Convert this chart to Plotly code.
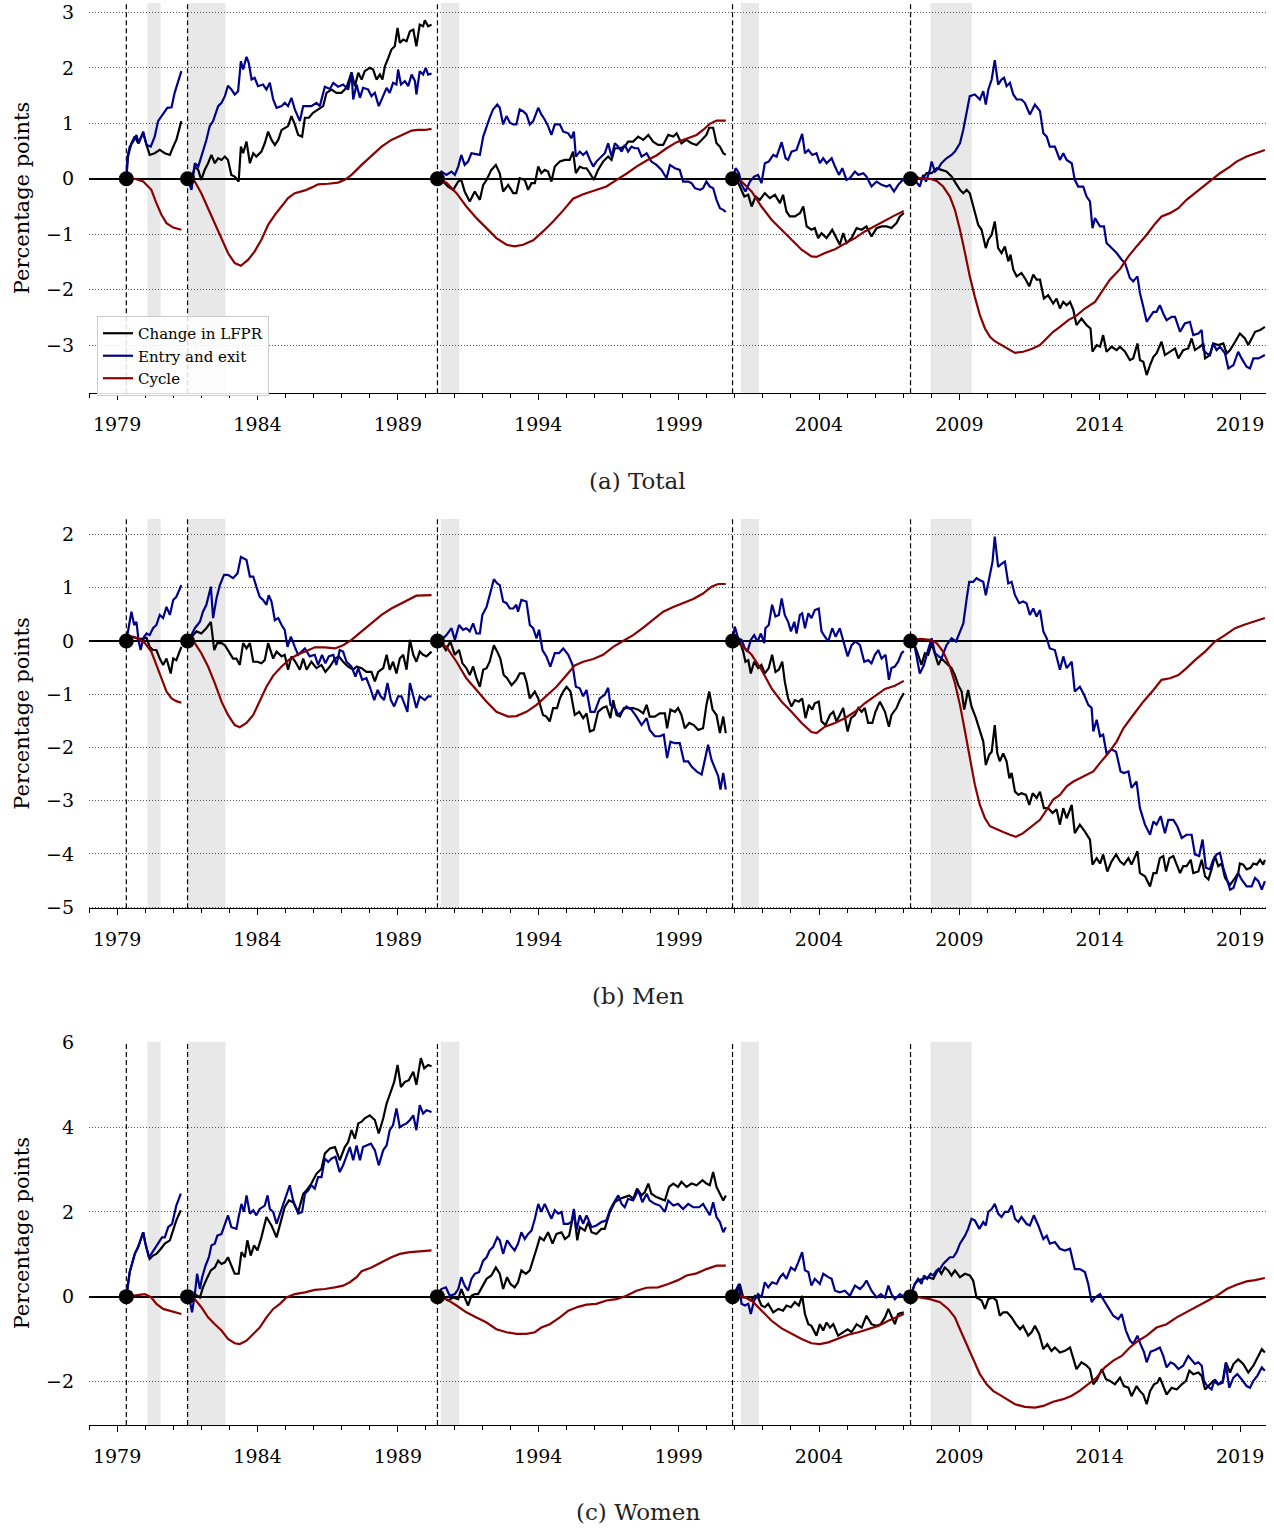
import plotly.graph_objects as go

# ---------------- data ----------------
EPISODE_STARTS = [1979.33, 1981.51, 1990.41, 2000.92, 2007.26]
RECESSIONS = [(1980.08, 1980.55), (1981.53, 1982.86), (1990.53, 1991.19),
              (2001.22, 2001.86), (2007.97, 2009.44)]
X_TICKS = [1979, 1984, 1989, 1994, 1999, 2004, 2009, 2014, 2019]
MINOR_TICKS = list(range(1978, 2020))
SERIES_NAMES = ["Change in LFPR", "Entry and exit", "Cycle"]
PANEL_TITLES = ["(a) Total", "(b) Men", "(c) Women"]
Y_TICKS = [[-3, -2, -1, 0, 1, 2, 3], [-5, -4, -3, -2, -1, 0, 1, 2], [-2, 0, 2, 4, 6]]

TOTAL_CHANGE = [
    [(1979.33,0),(1979.39,0.40),(1979.51,0.64),(1979.63,0.76),(1979.75,0.64),(1979.93,0.82),(1980.05,0.61),(1980.16,0.43),(1980.34,0.46),(1980.52,0.52),(1980.70,0.46),(1980.88,0.43),(1981.00,0.58),(1981.11,0.70),(1981.29,1.04)],
    [(1981.51,0),(1981.65,0.0),(1981.77,0.22),(1981.89,0.16),(1982.00,-0.02),(1982.12,0.16),(1982.24,0.28),(1982.36,0.43),(1982.48,0.28),(1982.60,0.37),(1982.72,0.34),(1982.84,0.40),(1982.95,0.34),(1983.07,0.07),(1983.19,0.04),(1983.33,-0.05),(1983.41,0.58),(1983.49,0.46),(1983.61,0.67),(1983.73,0.28),(1983.85,0.46),(1983.96,0.40),(1984.14,0.49),(1984.26,0.64),(1984.38,0.85),(1984.50,0.70),(1984.62,0.61),(1984.74,0.70),(1984.86,0.88),(1984.97,0.92),(1985.09,0.95),(1985.21,1.13),(1985.33,0.98),(1985.45,0.79),(1985.59,0.76),(1985.69,1.10),(1985.83,1.10),(1985.98,1.19),(1986.16,1.25),(1986.34,1.31),(1986.46,1.55),(1986.64,1.61),(1986.81,1.55),(1986.99,1.55),(1987.17,1.64),(1987.35,1.92),(1987.47,1.67),(1987.59,1.91),(1987.71,1.79),(1987.82,1.94),(1988.00,2.0),(1988.12,1.97),(1988.24,1.79),(1988.36,1.88),(1988.45,1.79),(1988.54,2.03),(1988.66,2.18),(1988.77,2.33),(1988.89,2.39),(1988.99,2.72),(1989.07,2.45),(1989.19,2.51),(1989.31,2.48),(1989.43,2.66),(1989.55,2.69),(1989.66,2.39),(1989.78,2.78),(1989.90,2.75),(1989.96,2.86),(1990.08,2.75),(1990.20,2.78)],
    [(1990.41,0),(1990.61,-0.05),(1990.79,-0.14),(1990.97,-0.20),(1991.15,-0.05),(1991.26,-0.02),(1991.38,-0.23),(1991.56,-0.41),(1991.74,-0.23),(1991.92,-0.38),(1992.04,-0.11),(1992.16,-0.02),(1992.33,0.16),(1992.49,0.25),(1992.63,0.10),(1992.75,-0.23),(1992.93,-0.11),(1993.11,-0.26),(1993.22,-0.26),(1993.34,0.01),(1993.52,-0.02),(1993.64,-0.20),(1993.76,-0.08),(1993.88,-0.08),(1994.00,0.22),(1994.11,0.10),(1994.23,0.16),(1994.35,0.13),(1994.47,-0.05),(1994.59,0.22),(1994.77,0.31),(1994.95,0.34),(1995.12,0.34),(1995.24,0.49),(1995.34,0.10),(1995.48,0.22),(1995.60,0.19),(1995.72,0.19),(1995.84,0.10),(1995.98,-0.02),(1996.13,0.16),(1996.31,0.31),(1996.49,0.40),(1996.61,0.34),(1996.73,0.55),(1996.91,0.55),(1997.08,0.58),(1997.20,0.67),(1997.38,0.67),(1997.56,0.76),(1997.74,0.70),(1997.92,0.79),(1998.09,0.67),(1998.27,0.61),(1998.45,0.61),(1998.63,0.79),(1998.81,0.76),(1998.93,0.82),(1999.10,0.64),(1999.28,0.70),(1999.46,0.64),(1999.64,0.61),(1999.82,0.70),(1999.99,0.79),(2000.09,0.92),(2000.23,0.92),(2000.35,0.64),(2000.47,0.58),(2000.59,0.46),(2000.68,0.43)],
    [(2000.92,0),(2001.06,0.01),(2001.18,-0.14),(2001.34,-0.32),(2001.48,-0.29),(2001.60,-0.50),(2001.74,-0.32),(2001.89,-0.38),(2002.07,-0.26),(2002.25,-0.35),(2002.43,-0.29),(2002.61,-0.44),(2002.72,-0.29),(2002.84,-0.59),(2002.96,-0.68),(2003.14,-0.68),(2003.32,-0.62),(2003.44,-0.50),(2003.56,-0.86),(2003.73,-0.92),(2003.85,-0.89),(2003.97,-1.07),(2004.09,-0.98),(2004.27,-1.07),(2004.47,-0.92),(2004.62,-1.07),(2004.74,-1.19),(2004.86,-0.98),(2004.98,-1.16),(2005.16,-1.07),(2005.34,-0.89),(2005.52,-0.92),(2005.69,-0.86),(2005.87,-1.04),(2006.05,-0.89),(2006.23,-0.86),(2006.41,-0.86),(2006.58,-0.89),(2006.76,-0.80),(2006.88,-0.68),(2007.02,-0.62)],
    [(2007.26,0),(2007.47,0.04),(2007.65,-0.02),(2007.83,0.10),(2008.01,0.10),(2008.19,0.19),(2008.36,0.16),(2008.54,0.13),(2008.72,0.04),(2008.84,-0.05),(2009.02,-0.20),(2009.14,-0.26),(2009.26,-0.20),(2009.37,-0.26),(2009.49,-0.50),(2009.67,-0.83),(2009.79,-0.92),(2009.94,-1.25),(2010.03,-1.10),(2010.15,-1.01),(2010.26,-0.77),(2010.38,-1.25),(2010.50,-1.34),(2010.62,-1.22),(2010.74,-1.49),(2010.82,-1.37),(2010.92,-1.64),(2011.04,-1.76),(2011.21,-1.70),(2011.33,-1.79),(2011.49,-1.94),(2011.63,-1.73),(2011.75,-1.82),(2011.87,-1.82),(2012.01,-2.16),(2012.16,-2.10),(2012.34,-2.25),(2012.46,-2.16),(2012.58,-2.34),(2012.70,-2.22),(2012.82,-2.28),(2012.94,-2.22),(2013.06,-2.37),(2013.17,-2.64),(2013.35,-2.52),(2013.53,-2.64),(2013.67,-2.70),(2013.74,-3.12),(2013.89,-3.00),(2014.01,-3.03),(2014.12,-2.82),(2014.24,-3.12),(2014.42,-3.03),(2014.60,-3.09),(2014.72,-3.03),(2014.90,-3.12),(2015.07,-3.27),(2015.19,-3.24),(2015.34,-2.97),(2015.43,-3.27),(2015.55,-3.30),(2015.67,-3.54),(2015.79,-3.36),(2015.91,-3.21),(2016.02,-3.15),(2016.20,-2.94),(2016.32,-3.18),(2016.50,-3.12),(2016.68,-3.06),(2016.80,-3.24),(2016.97,-3.09),(2017.15,-3.06),(2017.27,-2.88),(2017.39,-3.09),(2017.57,-3.03),(2017.69,-2.97),(2017.75,-3.24),(2017.92,-3.18),(2018.04,-2.97),(2018.22,-3.00),(2018.40,-2.97),(2018.52,-3.15),(2018.64,-3.09),(2018.82,-2.94),(2018.99,-2.79),(2019.17,-2.88),(2019.29,-3.00),(2019.41,-2.88),(2019.53,-2.76),(2019.71,-2.73),(2019.88,-2.67)],
]
TOTAL_ENTRY = [
    [(1979.33,0),(1979.37,0.40),(1979.45,0.58),(1979.57,0.67),(1979.69,0.79),(1979.77,0.64),(1979.93,0.85),(1980.05,0.61),(1980.20,0.58),(1980.34,0.76),(1980.46,1.04),(1980.64,1.16),(1980.79,1.28),(1980.94,1.29),(1981.05,1.55),(1981.29,1.94)],
    [(1981.51,0),(1981.65,-0.2),(1981.77,0.28),(1981.89,0.22),(1982.00,0.40),(1982.18,0.70),(1982.30,0.95),(1982.42,1.04),(1982.60,1.31),(1982.72,1.37),(1982.84,1.49),(1982.95,1.68),(1983.07,1.61),(1983.19,1.52),(1983.31,1.58),(1983.41,2.12),(1983.49,1.97),(1983.61,2.20),(1983.69,2.09),(1983.79,1.79),(1983.90,1.82),(1984.02,1.67),(1984.20,1.70),(1984.32,1.61),(1984.44,1.73),(1984.56,1.43),(1984.68,1.28),(1984.86,1.31),(1984.97,1.37),(1985.09,1.31),(1985.21,1.46),(1985.33,1.25),(1985.51,1.04),(1985.63,1.31),(1985.75,1.31),(1985.92,1.31),(1986.10,1.37),(1986.22,1.31),(1986.40,1.66),(1986.58,1.62),(1986.70,1.73),(1986.87,1.66),(1987.05,1.70),(1987.23,1.61),(1987.35,1.91),(1987.41,1.43),(1987.53,1.70),(1987.65,1.46),(1987.76,1.64),(1987.94,1.61),(1988.06,1.49),(1988.18,1.55),(1988.32,1.31),(1988.48,1.49),(1988.60,1.64),(1988.71,1.55),(1988.83,1.73),(1988.95,1.70),(1989.01,1.97),(1989.11,1.70),(1989.25,1.76),(1989.37,1.67),(1989.49,1.88),(1989.61,1.76),(1989.66,1.52),(1989.78,1.94),(1989.90,1.88),(1989.99,2.0),(1990.08,1.88),(1990.20,1.90)],
    [(1990.41,0),(1990.55,0.13),(1990.73,0.07),(1990.91,0.13),(1991.03,0.07),(1991.15,0.22),(1991.26,0.43),(1991.38,0.25),(1991.50,0.31),(1991.62,0.46),(1991.74,0.45),(1991.92,0.43),(1992.04,0.76),(1992.16,0.95),(1992.27,1.10),(1992.39,1.25),(1992.54,1.34),(1992.63,1.28),(1992.75,0.98),(1992.87,1.13),(1992.99,1.01),(1993.11,0.98),(1993.22,0.98),(1993.34,1.25),(1993.46,1.22),(1993.58,1.16),(1993.70,0.98),(1993.82,1.04),(1994.00,1.28),(1994.11,1.16),(1994.23,1.07),(1994.35,0.95),(1994.47,0.79),(1994.59,0.98),(1994.77,0.98),(1994.89,0.85),(1995.07,0.82),(1995.18,0.73),(1995.27,0.85),(1995.34,0.40),(1995.48,0.49),(1995.60,0.43),(1995.72,0.49),(1995.84,0.34),(1995.96,0.22),(1996.07,0.31),(1996.25,0.40),(1996.37,0.46),(1996.49,0.64),(1996.61,0.40),(1996.73,0.64),(1996.85,0.58),(1996.97,0.49),(1997.08,0.61),(1997.20,0.49),(1997.32,0.58),(1997.44,0.55),(1997.56,0.55),(1997.68,0.40),(1997.86,0.46),(1998.03,0.31),(1998.21,0.25),(1998.39,0.16),(1998.57,0.01),(1998.69,0.25),(1998.87,0.19),(1999.04,0.16),(1999.16,-0.05),(1999.34,-0.05),(1999.46,-0.08),(1999.58,-0.17),(1999.76,-0.20),(1999.87,-0.17),(1999.99,-0.05),(2000.11,-0.14),(2000.23,-0.17),(2000.35,-0.38),(2000.47,-0.53),(2000.59,-0.56),(2000.68,-0.60)],
    [(2000.92,0),(2001.03,0.19),(2001.15,0.10),(2001.24,-0.11),(2001.38,-0.23),(2001.54,-0.05),(2001.69,0.04),(2001.83,0.07),(2001.95,-0.08),(2002.07,0.28),(2002.21,0.31),(2002.37,0.43),(2002.49,0.40),(2002.67,0.66),(2002.81,0.37),(2002.90,0.34),(2003.02,0.49),(2003.20,0.52),(2003.28,0.64),(2003.40,0.81),(2003.50,0.46),(2003.62,0.52),(2003.76,0.43),(2003.91,0.46),(2004.03,0.28),(2004.15,0.37),(2004.27,0.28),(2004.45,0.37),(2004.57,0.22),(2004.71,0.07),(2004.83,0.19),(2004.98,-0.02),(2005.10,0.01),(2005.28,0.13),(2005.40,0.07),(2005.58,0.10),(2005.69,0.04),(2005.87,-0.14),(2006.05,-0.05),(2006.23,-0.11),(2006.41,-0.14),(2006.52,-0.11),(2006.67,-0.23),(2006.82,-0.11),(2007.02,0.0)],
    [(2007.26,0),(2007.41,-0.02),(2007.59,-0.14),(2007.71,0.07),(2007.81,-0.05),(2007.95,0.16),(2008.01,0.31),(2008.13,0.13),(2008.25,0.19),(2008.36,0.28),(2008.54,0.37),(2008.72,0.43),(2008.84,0.49),(2009.02,0.64),(2009.14,0.89),(2009.26,1.22),(2009.37,1.49),(2009.55,1.52),(2009.73,1.43),(2009.85,1.58),(2009.94,1.34),(2010.03,1.61),(2010.15,1.79),(2010.26,2.14),(2010.38,1.70),(2010.50,1.79),(2010.59,1.82),(2010.68,1.67),(2010.80,1.73),(2010.92,1.52),(2011.04,1.43),(2011.21,1.43),(2011.33,1.37),(2011.51,1.16),(2011.69,1.34),(2011.87,1.22),(2011.99,0.82),(2012.11,0.76),(2012.22,0.58),(2012.40,0.58),(2012.58,0.34),(2012.70,0.46),(2012.82,0.34),(2013.00,0.28),(2013.11,-0.02),(2013.23,-0.14),(2013.41,-0.14),(2013.53,-0.32),(2013.65,-0.41),(2013.74,-0.89),(2013.83,-0.71),(2014.01,-0.86),(2014.15,-0.86),(2014.24,-1.16),(2014.42,-1.25),(2014.60,-1.34),(2014.78,-1.46),(2014.90,-1.52),(2015.07,-1.79),(2015.19,-1.85),(2015.34,-1.76),(2015.43,-2.06),(2015.55,-2.31),(2015.67,-2.58),(2015.79,-2.49),(2015.91,-2.40),(2016.02,-2.40),(2016.14,-2.28),(2016.26,-2.43),(2016.38,-2.55),(2016.56,-2.49),(2016.68,-2.49),(2016.86,-2.76),(2017.03,-2.61),(2017.21,-2.58),(2017.33,-2.82),(2017.51,-2.79),(2017.63,-2.73),(2017.69,-3.09),(2017.81,-3.15),(2017.92,-3.18),(2018.04,-2.97),(2018.16,-3.09),(2018.28,-3.03),(2018.46,-3.15),(2018.58,-3.42),(2018.76,-3.36),(2018.93,-3.12),(2019.05,-3.24),(2019.23,-3.39),(2019.35,-3.42),(2019.47,-3.24),(2019.65,-3.24),(2019.88,-3.18)],
]
TOTAL_CYCLE = [
    [(1979.33,0),(1979.63,0.0),(1979.93,-0.05),(1980.22,-0.2),(1980.40,-0.44),(1980.58,-0.65),(1980.76,-0.80),(1981.00,-0.88),(1981.29,-0.92)],
    [(1981.51,0),(1981.77,-0.05),(1982.00,-0.26),(1982.24,-0.53),(1982.48,-0.80),(1982.72,-1.07),(1982.95,-1.34),(1983.19,-1.52),(1983.41,-1.57),(1983.67,-1.46),(1983.90,-1.31),(1984.14,-1.10),(1984.38,-0.83),(1984.62,-0.65),(1984.86,-0.50),(1985.09,-0.35),(1985.33,-0.26),(1985.69,-0.21),(1985.92,-0.16),(1986.16,-0.10),(1986.52,-0.09),(1986.87,-0.07),(1987.11,-0.02),(1987.35,0.07),(1987.71,0.25),(1988.06,0.42),(1988.42,0.58),(1988.77,0.70),(1989.13,0.79),(1989.49,0.87),(1989.72,0.88),(1989.96,0.88),(1990.20,0.90)],
    [(1990.41,0),(1990.73,-0.07),(1991.09,-0.26),(1991.44,-0.50),(1991.80,-0.71),(1992.16,-0.89),(1992.51,-1.07),(1992.87,-1.19),(1993.16,-1.22),(1993.46,-1.19),(1993.82,-1.11),(1994.17,-0.95),(1994.53,-0.77),(1994.89,-0.57),(1995.24,-0.36),(1995.60,-0.28),(1995.96,-0.22),(1996.43,-0.14),(1996.79,-0.02),(1997.14,0.09),(1997.50,0.22),(1997.86,0.33),(1998.21,0.42),(1998.57,0.55),(1998.93,0.66),(1999.28,0.72),(1999.64,0.79),(1999.87,0.88),(2000.11,0.99),(2000.35,1.05),(2000.68,1.05)],
    [(2000.92,0),(2001.24,-0.05),(2001.60,-0.23),(2001.95,-0.50),(2002.31,-0.74),(2002.67,-0.92),(2003.02,-1.10),(2003.38,-1.28),(2003.73,-1.40),(2003.91,-1.41),(2004.21,-1.34),(2004.57,-1.27),(2004.92,-1.17),(2005.28,-1.07),(2005.63,-0.95),(2005.99,-0.85),(2006.35,-0.75),(2006.70,-0.66),(2007.02,-0.58)],
    [(2007.26,0),(2007.59,0.01),(2007.95,0),(2008.19,-0.04),(2008.42,-0.14),(2008.66,-0.32),(2008.84,-0.56),(2009.02,-0.92),(2009.20,-1.34),(2009.37,-1.76),(2009.55,-2.13),(2009.73,-2.46),(2009.91,-2.70),(2010.09,-2.85),(2010.26,-2.93),(2010.44,-2.98),(2010.68,-3.06),(2010.98,-3.14),(2011.27,-3.12),(2011.57,-3.07),(2011.87,-3.00),(2012.11,-2.88),(2012.34,-2.76),(2012.58,-2.67),(2012.88,-2.55),(2013.17,-2.47),(2013.47,-2.34),(2013.83,-2.22),(2014.12,-2.00),(2014.36,-1.82),(2014.72,-1.63),(2015.02,-1.40),(2015.31,-1.22),(2015.67,-1.01),(2015.97,-0.81),(2016.20,-0.68),(2016.50,-0.62),(2016.80,-0.53),(2017.09,-0.38),(2017.39,-0.26),(2017.69,-0.14),(2017.98,-0.02),(2018.28,0.10),(2018.64,0.22),(2018.87,0.31),(2019.23,0.40),(2019.53,0.46),(2019.88,0.52)],
]

MEN_CHANGE = [
    [(1979.33,0),(1979.45,0.05),(1979.57,0.08),(1979.75,0.04),(1979.93,0.04),(1980.05,0.06),(1980.16,-0.11),(1980.28,-0.17),(1980.40,-0.17),(1980.52,-0.33),(1980.64,-0.45),(1980.76,-0.33),(1980.91,-0.61),(1981.00,-0.33),(1981.11,-0.36),(1981.29,-0.11)],
    [(1981.51,0),(1981.65,0.08),(1981.83,0.18),(1982.00,0.14),(1982.18,0.24),(1982.34,0.36),(1982.46,-0.17),(1982.57,-0.04),(1982.72,-0.04),(1982.84,-0.08),(1982.95,-0.17),(1983.13,-0.33),(1983.25,-0.33),(1983.37,-0.45),(1983.49,-0.04),(1983.61,-0.14),(1983.73,-0.04),(1983.85,-0.39),(1984.00,-0.39),(1984.14,-0.42),(1984.26,-0.36),(1984.38,-0.04),(1984.56,-0.33),(1984.68,-0.20),(1984.86,-0.29),(1984.97,-0.26),(1985.09,-0.54),(1985.21,-0.29),(1985.35,-0.39),(1985.51,-0.54),(1985.63,-0.33),(1985.75,-0.54),(1985.92,-0.39),(1986.10,-0.51),(1986.28,-0.45),(1986.42,-0.58),(1986.58,-0.48),(1986.76,-0.33),(1986.90,-0.29),(1987.05,-0.39),(1987.23,-0.48),(1987.41,-0.54),(1987.53,-0.48),(1987.71,-0.51),(1987.88,-0.58),(1988.06,-0.58),(1988.18,-0.76),(1988.30,-0.58),(1988.48,-0.51),(1988.60,-0.26),(1988.71,-0.54),(1988.83,-0.39),(1988.95,-0.61),(1989.07,-0.33),(1989.19,-0.26),(1989.31,-0.54),(1989.43,0.02),(1989.55,-0.26),(1989.66,-0.39),(1989.78,-0.20),(1989.90,-0.26),(1990.02,-0.29),(1990.20,-0.20)],
    [(1990.41,0),(1990.55,-0.04),(1990.71,-0.17),(1990.87,-0.01),(1991.03,-0.26),(1991.18,-0.17),(1991.30,-0.42),(1991.44,-0.51),(1991.56,-0.64),(1991.68,-0.48),(1991.80,-0.70),(1991.92,-0.86),(1992.04,-0.54),(1992.16,-0.51),(1992.27,-0.39),(1992.42,-0.08),(1992.54,-0.20),(1992.65,-0.33),(1992.77,-0.64),(1992.89,-0.70),(1993.05,-0.83),(1993.22,-0.73),(1993.34,-0.61),(1993.49,-0.61),(1993.58,-0.76),(1993.70,-1.08),(1993.88,-0.95),(1994.00,-1.08),(1994.17,-1.39),(1994.29,-1.42),(1994.41,-1.51),(1994.53,-1.26),(1994.67,-1.26),(1994.77,-1.08),(1994.89,-0.95),(1995.01,-0.86),(1995.15,-0.95),(1995.30,-1.39),(1995.46,-1.33),(1995.60,-1.45),(1995.72,-1.36),(1995.84,-1.70),(1995.98,-1.67),(1996.13,-1.33),(1996.29,-1.26),(1996.43,-1.23),(1996.57,-1.45),(1996.67,-1.11),(1996.79,-1.39),(1996.91,-1.42),(1997.05,-1.26),(1997.20,-1.26),(1997.38,-1.26),(1997.56,-1.29),(1997.74,-1.36),(1997.86,-1.20),(1997.97,-1.42),(1998.15,-1.42),(1998.33,-1.36),(1998.51,-1.36),(1998.59,-1.64),(1998.71,-1.29),(1998.87,-1.33),(1998.98,-1.26),(1999.10,-1.39),(1999.22,-1.64),(1999.38,-1.54),(1999.54,-1.58),(1999.70,-1.67),(1999.87,-1.64),(1999.99,-1.20),(2000.09,-0.95),(2000.21,-1.29),(2000.35,-1.39),(2000.47,-1.73),(2000.59,-1.42),(2000.68,-1.73)],
    [(2000.92,0),(2001.06,0.02),(2001.18,-0.01),(2001.30,-0.20),(2001.38,-0.39),(2001.48,-0.36),(2001.57,-0.61),(2001.69,-0.39),(2001.83,-0.51),(2001.95,-0.45),(2002.07,-0.61),(2002.21,-0.51),(2002.33,-0.26),(2002.45,-0.58),(2002.57,-0.54),(2002.69,-0.39),(2002.78,-0.76),(2002.90,-1.08),(2003.02,-1.23),(2003.14,-1.11),(2003.28,-1.14),(2003.40,-1.08),(2003.52,-1.45),(2003.64,-1.20),(2003.76,-1.29),(2003.85,-1.17),(2003.99,-1.14),(2004.09,-1.51),(2004.23,-1.58),(2004.39,-1.39),(2004.51,-1.33),(2004.62,-1.51),(2004.74,-1.39),(2004.86,-1.26),(2005.02,-1.70),(2005.14,-1.45),(2005.28,-1.39),(2005.40,-1.26),(2005.52,-1.33),(2005.63,-1.26),(2005.75,-1.54),(2005.90,-1.54),(2006.01,-1.33),(2006.17,-1.14),(2006.35,-1.33),(2006.49,-1.61),(2006.58,-1.39),(2006.76,-1.26),(2006.88,-1.11),(2007.02,-0.98)],
    [(2007.26,0),(2007.41,-0.08),(2007.53,-0.26),(2007.65,-0.45),(2007.77,-0.23),(2007.89,-0.26),(2008.01,-0.04),(2008.13,-0.26),(2008.25,-0.45),(2008.36,-0.33),(2008.48,-0.39),(2008.60,-0.45),(2008.72,-0.51),(2008.84,-0.64),(2008.96,-0.83),(2009.08,-0.95),(2009.17,-1.29),(2009.31,-0.92),(2009.43,-1.23),(2009.59,-1.45),(2009.73,-1.70),(2009.85,-1.89),(2009.94,-2.33),(2010.06,-2.14),(2010.15,-2.08),(2010.26,-1.58),(2010.35,-2.11),(2010.44,-2.26),(2010.56,-2.11),(2010.68,-2.26),(2010.78,-2.58),(2010.86,-2.48),(2010.98,-2.83),(2011.10,-2.89),(2011.21,-2.86),(2011.37,-2.89),(2011.49,-3.08),(2011.61,-2.86),(2011.75,-2.95),(2011.87,-2.83),(2012.01,-3.14),(2012.16,-3.14),(2012.32,-3.23),(2012.46,-3.16),(2012.58,-3.45),(2012.70,-3.14),(2012.82,-3.33),(2013.00,-3.08),(2013.11,-3.61),(2013.29,-3.45),(2013.47,-3.58),(2013.65,-3.73),(2013.74,-4.20),(2013.89,-4.08),(2014.01,-4.18),(2014.12,-4.01),(2014.27,-4.33),(2014.42,-4.14),(2014.58,-4.01),(2014.72,-4.14),(2014.86,-4.20),(2015.02,-4.08),(2015.13,-4.20),(2015.34,-3.95),(2015.43,-4.36),(2015.61,-4.42),(2015.79,-4.61),(2015.91,-4.36),(2016.02,-4.36),(2016.14,-4.08),(2016.26,-4.04),(2016.36,-4.33),(2016.48,-4.08),(2016.62,-4.04),(2016.74,-4.20),(2016.86,-4.36),(2016.97,-4.23),(2017.09,-4.23),(2017.24,-4.11),(2017.33,-4.36),(2017.51,-4.33),(2017.63,-4.11),(2017.75,-4.42),(2017.87,-4.48),(2017.98,-4.29),(2018.10,-4.04),(2018.22,-4.23),(2018.34,-4.18),(2018.46,-4.45),(2018.64,-4.58),(2018.82,-4.45),(2018.93,-4.36),(2018.99,-4.18),(2019.11,-4.20),(2019.23,-4.29),(2019.37,-4.26),(2019.47,-4.18),(2019.59,-4.20),(2019.71,-4.11),(2019.82,-4.20),(2019.88,-4.11)],
]
MEN_ENTRY = [
    [(1979.33,0),(1979.42,0.24),(1979.51,0.55),(1979.61,0.30),(1979.69,0.36),(1979.77,-0.01),(1979.84,-0.17),(1979.93,0.05),(1980.05,0.14),(1980.16,0.11),(1980.28,0.24),(1980.40,0.30),(1980.52,0.49),(1980.64,0.43),(1980.76,0.64),(1980.88,0.49),(1981.00,0.77),(1981.11,0.83),(1981.29,1.05)],
    [(1981.51,0),(1981.62,0.08),(1981.77,0.24),(1981.95,0.36),(1982.06,0.55),(1982.18,0.68),(1982.34,1.02),(1982.42,0.43),(1982.54,0.80),(1982.66,1.05),(1982.81,1.24),(1982.95,1.24),(1983.13,1.18),(1983.29,1.27),(1983.41,1.58),(1983.49,1.55),(1983.61,1.52),(1983.73,1.21),(1983.85,1.21),(1983.96,1.02),(1984.08,0.83),(1984.20,0.77),(1984.32,0.68),(1984.40,0.86),(1984.50,0.74),(1984.62,0.39),(1984.74,0.43),(1984.86,0.30),(1984.97,0.21),(1985.07,-0.11),(1985.19,0.08),(1985.33,-0.11),(1985.45,-0.26),(1985.57,-0.20),(1985.69,-0.14),(1985.86,-0.29),(1986.04,-0.26),(1986.16,-0.45),(1986.30,-0.26),(1986.42,-0.42),(1986.54,-0.29),(1986.70,-0.26),(1986.81,-0.45),(1986.93,-0.17),(1987.05,-0.20),(1987.17,-0.39),(1987.35,-0.48),(1987.49,-0.67),(1987.59,-0.51),(1987.73,-0.73),(1987.88,-0.70),(1988.00,-0.86),(1988.16,-1.11),(1988.28,-0.92),(1988.39,-1.04),(1988.51,-1.11),(1988.63,-0.79),(1988.75,-1.11),(1988.87,-1.23),(1989.01,-1.04),(1989.13,-1.04),(1989.25,-1.20),(1989.34,-1.33),(1989.43,-0.79),(1989.55,-1.01),(1989.66,-1.26),(1989.78,-1.04),(1989.96,-1.11),(1990.08,-1.04),(1990.20,-1.04)],
    [(1990.41,0),(1990.55,0.02),(1990.73,0.11),(1990.91,0.24),(1991.03,0.02),(1991.18,0.30),(1991.32,0.21),(1991.44,0.24),(1991.56,0.18),(1991.68,0.33),(1991.80,0.14),(1991.92,0.14),(1992.01,0.49),(1992.16,0.64),(1992.27,0.86),(1992.42,1.16),(1992.54,1.08),(1992.63,1.05),(1992.75,0.74),(1992.87,0.71),(1992.99,0.61),(1993.11,0.61),(1993.22,0.68),(1993.28,0.55),(1993.40,0.77),(1993.58,0.74),(1993.70,0.30),(1993.82,0.24),(1993.94,0.05),(1994.03,0.21),(1994.15,-0.17),(1994.29,-0.29),(1994.43,-0.48),(1994.59,-0.23),(1994.74,-0.23),(1994.89,-0.14),(1995.07,-0.26),(1995.22,-0.45),(1995.34,-0.86),(1995.48,-0.89),(1995.60,-1.04),(1995.72,-0.92),(1995.86,-1.33),(1996.01,-1.33),(1996.19,-1.08),(1996.37,-1.01),(1996.49,-0.88),(1996.57,-1.20),(1996.73,-1.26),(1996.85,-1.39),(1996.97,-1.33),(1997.14,-1.23),(1997.32,-1.29),(1997.50,-1.42),(1997.68,-1.58),(1997.86,-1.45),(1997.97,-1.67),(1998.15,-1.79),(1998.33,-1.79),(1998.47,-1.76),(1998.59,-2.20),(1998.71,-1.89),(1998.87,-1.92),(1999.04,-1.92),(1999.19,-2.26),(1999.34,-2.26),(1999.46,-2.36),(1999.64,-2.45),(1999.82,-2.51),(1999.93,-2.26),(2000.05,-1.95),(2000.17,-2.23),(2000.29,-2.39),(2000.41,-2.54),(2000.49,-2.79),(2000.59,-2.48),(2000.68,-2.79)],
    [(2000.92,0),(2001.00,0.27),(2001.12,0.05),(2001.24,0.02),(2001.36,-0.14),(2001.45,-0.20),(2001.57,0.02),(2001.69,0.11),(2001.81,-0.01),(2001.93,0.14),(2002.05,-0.04),(2002.09,0.24),(2002.21,0.30),(2002.33,0.68),(2002.45,0.46),(2002.57,0.49),(2002.67,0.80),(2002.78,0.49),(2002.90,0.36),(2003.00,0.18),(2003.12,0.36),(2003.20,0.14),(2003.32,0.49),(2003.40,0.52),(2003.50,0.24),(2003.62,0.52),(2003.73,0.43),(2003.85,0.58),(2003.99,0.61),(2004.09,0.18),(2004.21,0.08),(2004.33,-0.01),(2004.47,0.24),(2004.59,0.08),(2004.74,0.24),(2004.86,-0.01),(2005.02,-0.29),(2005.16,-0.08),(2005.30,-0.01),(2005.46,-0.08),(2005.61,-0.39),(2005.75,-0.36),(2005.87,-0.42),(2005.99,-0.26),(2006.11,-0.17),(2006.23,-0.33),(2006.37,-0.26),(2006.49,-0.73),(2006.58,-0.51),(2006.70,-0.48),(2006.82,-0.39),(2006.94,-0.23),(2007.02,-0.19)],
    [(2007.26,0),(2007.41,-0.11),(2007.59,-0.61),(2007.74,-0.45),(2007.85,-0.23),(2008.01,0.05),(2008.13,-0.23),(2008.25,-0.29),(2008.36,-0.33),(2008.54,-0.08),(2008.72,0.05),(2008.88,-0.01),(2009.02,0.18),(2009.14,0.33),(2009.26,0.80),(2009.35,1.11),(2009.49,1.11),(2009.61,1.18),(2009.73,1.14),(2009.85,1.11),(2009.94,0.86),(2010.06,1.18),(2010.18,1.49),(2010.26,1.96),(2010.38,1.39),(2010.50,1.45),(2010.62,1.49),(2010.74,1.08),(2010.86,1.11),(2010.98,0.86),(2011.13,0.71),(2011.27,0.74),(2011.39,0.71),(2011.51,0.49),(2011.63,0.61),(2011.75,0.46),(2011.87,0.58),(2011.99,0.18),(2012.11,0.05),(2012.22,-0.14),(2012.40,-0.17),(2012.58,-0.54),(2012.70,-0.29),(2012.82,-0.51),(2013.00,-0.39),(2013.11,-0.95),(2013.29,-0.86),(2013.44,-1.01),(2013.59,-1.20),(2013.71,-1.26),(2013.77,-1.70),(2013.89,-1.48),(2014.01,-1.79),(2014.12,-1.76),(2014.24,-2.11),(2014.42,-2.04),(2014.58,-2.08),(2014.74,-2.45),(2014.86,-2.48),(2015.02,-2.45),(2015.13,-2.76),(2015.31,-2.64),(2015.43,-3.14),(2015.61,-3.45),(2015.79,-3.64),(2015.91,-3.39),(2016.02,-3.45),(2016.17,-3.29),(2016.32,-3.61),(2016.44,-3.36),(2016.62,-3.36),(2016.76,-3.48),(2016.92,-3.70),(2017.09,-3.64),(2017.27,-3.64),(2017.39,-4.01),(2017.54,-4.04),(2017.66,-3.73),(2017.78,-4.26),(2017.92,-4.29),(2018.04,-4.11),(2018.16,-4.01),(2018.28,-3.98),(2018.40,-4.26),(2018.52,-4.48),(2018.64,-4.67),(2018.76,-4.64),(2018.93,-4.36),(2019.05,-4.48),(2019.23,-4.61),(2019.41,-4.61),(2019.53,-4.45),(2019.65,-4.51),(2019.77,-4.67),(2019.88,-4.51)],
]
MEN_CYCLE = [
    [(1979.33,0),(1979.51,0.08),(1979.75,0.05),(1979.99,-0.04),(1980.22,-0.20),(1980.40,-0.45),(1980.58,-0.73),(1980.76,-0.95),(1980.94,-1.08),(1981.11,-1.13),(1981.29,-1.16)],
    [(1981.51,0),(1981.77,-0.04),(1982.00,-0.23),(1982.24,-0.48),(1982.48,-0.79),(1982.72,-1.14),(1982.95,-1.39),(1983.19,-1.58),(1983.37,-1.62),(1983.61,-1.54),(1983.85,-1.39),(1984.08,-1.14),(1984.32,-0.86),(1984.56,-0.65),(1984.86,-0.48),(1985.15,-0.34),(1985.45,-0.25),(1985.75,-0.19),(1986.04,-0.12),(1986.40,-0.12),(1986.76,-0.14),(1987.05,-0.08),(1987.35,0.02),(1987.71,0.18),(1988.06,0.33),(1988.42,0.49),(1988.77,0.61),(1989.13,0.71),(1989.43,0.80),(1989.66,0.85),(1990.20,0.86)],
    [(1990.41,0),(1990.73,-0.11),(1991.09,-0.39),(1991.44,-0.70),(1991.80,-0.92),(1992.16,-1.14),(1992.51,-1.33),(1992.93,-1.42),(1993.22,-1.41),(1993.58,-1.33),(1993.94,-1.20),(1994.29,-1.04),(1994.65,-0.86),(1995.01,-0.64),(1995.30,-0.46),(1995.60,-0.39),(1995.96,-0.34),(1996.31,-0.26),(1996.67,-0.11),(1997.02,0.0),(1997.38,0.11),(1997.74,0.25),(1998.09,0.39),(1998.45,0.55),(1998.81,0.64),(1999.16,0.71),(1999.52,0.79),(1999.87,0.89),(2000.17,1.02),(2000.41,1.07),(2000.68,1.07)],
    [(2000.92,0),(2001.24,-0.08),(2001.60,-0.26),(2001.95,-0.54),(2002.31,-0.89),(2002.67,-1.14),(2003.02,-1.33),(2003.38,-1.54),(2003.73,-1.71),(2003.91,-1.73),(2004.21,-1.61),(2004.57,-1.54),(2004.92,-1.45),(2005.28,-1.33),(2005.63,-1.17),(2005.99,-1.04),(2006.35,-0.90),(2006.70,-0.84),(2007.02,-0.75)],
    [(2007.26,0),(2007.59,0.04),(2007.95,0.02),(2008.19,-0.04),(2008.42,-0.20),(2008.66,-0.48),(2008.84,-0.79),(2009.02,-1.20),(2009.20,-1.70),(2009.37,-2.20),(2009.55,-2.70),(2009.73,-3.08),(2009.91,-3.33),(2010.09,-3.48),(2010.32,-3.54),(2010.56,-3.59),(2010.80,-3.64),(2011.01,-3.68),(2011.27,-3.61),(2011.57,-3.48),(2011.87,-3.36),(2012.11,-3.17),(2012.34,-2.98),(2012.58,-2.89),(2012.82,-2.73),(2013.06,-2.64),(2013.41,-2.54),(2013.77,-2.45),(2014.01,-2.29),(2014.30,-2.11),(2014.60,-1.89),(2014.84,-1.64),(2015.19,-1.39),(2015.55,-1.14),(2015.91,-0.92),(2016.20,-0.73),(2016.50,-0.70),(2016.80,-0.64),(2017.09,-0.51),(2017.39,-0.36),(2017.75,-0.20),(2018.10,-0.01),(2018.46,0.11),(2018.82,0.24),(2019.17,0.31),(2019.47,0.36),(2019.88,0.43)],
]

WOMEN_CHANGE = [
    [(1979.33,0),(1979.39,0.30),(1979.45,0.58),(1979.53,0.77),(1979.63,1.01),(1979.75,1.17),(1979.84,1.33),(1979.93,1.52),(1980.01,1.25),(1980.16,0.89),(1980.28,0.97),(1980.40,1.01),(1980.56,1.13),(1980.70,1.25),(1980.88,1.33),(1981.00,1.56),(1981.11,1.80),(1981.27,2.04)],
    [(1981.51,0),(1981.77,0.06),(1981.95,-0.02),(1982.06,0.22),(1982.22,0.46),(1982.34,0.62),(1982.48,0.69),(1982.60,0.85),(1982.72,0.77),(1982.84,0.81),(1982.95,0.93),(1983.07,0.73),(1983.19,0.54),(1983.33,0.54),(1983.43,1.05),(1983.55,0.93),(1983.64,1.33),(1983.76,0.97),(1983.88,1.21),(1984.00,1.09),(1984.14,1.40),(1984.32,1.88),(1984.50,1.68),(1984.68,1.40),(1984.80,1.72),(1984.97,2.11),(1985.12,2.27),(1985.27,2.23),(1985.45,2.00),(1985.63,2.43),(1985.75,2.51),(1985.92,2.67),(1986.10,2.90),(1986.28,3.02),(1986.40,3.38),(1986.58,3.50),(1986.76,3.53),(1986.93,3.22),(1987.11,3.53),(1987.23,3.65),(1987.35,3.93),(1987.47,3.73),(1987.59,4.09),(1987.71,4.13),(1987.82,4.21),(1988.00,4.28),(1988.18,4.17),(1988.32,3.85),(1988.48,4.21),(1988.60,4.56),(1988.75,4.84),(1988.87,5.07),(1988.99,5.47),(1989.11,4.95),(1989.25,5.07),(1989.39,5.11),(1989.55,5.31),(1989.66,5.0),(1989.82,5.63),(1989.94,5.39),(1990.08,5.47),(1990.20,5.44)],
    [(1990.41,0),(1990.61,-0.02),(1990.79,-0.09),(1990.97,-0.02),(1991.15,-0.06),(1991.26,0.18),(1991.38,-0.02),(1991.50,-0.21),(1991.62,0.02),(1991.74,0.06),(1991.86,0.06),(1992.04,0.26),(1992.16,0.42),(1992.33,0.50),(1992.49,0.69),(1992.63,0.54),(1992.75,0.18),(1992.89,0.46),(1993.01,0.30),(1993.16,0.22),(1993.28,0.34),(1993.40,0.62),(1993.56,0.54),(1993.70,0.62),(1993.82,0.85),(1993.94,1.13),(1994.06,1.40),(1994.20,1.33),(1994.35,1.52),(1994.51,1.25),(1994.65,1.48),(1994.83,1.52),(1994.95,1.36),(1995.10,1.44),(1995.27,2.00),(1995.39,1.33),(1995.48,1.64),(1995.66,1.56),(1995.78,1.76),(1995.90,1.52),(1996.07,1.48),(1996.25,1.60),(1996.37,1.60),(1996.55,2.00),(1996.73,2.23),(1996.91,2.31),(1997.08,2.35),(1997.24,2.39),(1997.38,2.31),(1997.52,2.55),(1997.68,2.39),(1997.80,2.47),(1997.92,2.67),(1998.03,2.43),(1998.21,2.35),(1998.39,2.31),(1998.51,2.27),(1998.66,2.59),(1998.81,2.67),(1998.98,2.59),(1999.10,2.71),(1999.28,2.59),(1999.46,2.67),(1999.64,2.63),(1999.85,2.75),(1999.99,2.67),(2000.11,2.63),(2000.23,2.94),(2000.35,2.59),(2000.47,2.43),(2000.59,2.27),(2000.68,2.39)],
    [(2000.92,0),(2001.06,0.06),(2001.18,0.30),(2001.30,-0.02),(2001.42,-0.02),(2001.57,-0.09),(2001.72,0.02),(2001.83,-0.02),(2001.95,-0.21),(2002.07,-0.25),(2002.19,-0.17),(2002.37,-0.37),(2002.55,-0.29),(2002.72,-0.33),(2002.84,-0.21),(2003.00,-0.25),(2003.14,-0.13),(2003.28,-0.21),(2003.40,0.02),(2003.50,-0.41),(2003.62,-0.65),(2003.73,-0.69),(2003.91,-0.92),(2004.03,-0.65),(2004.15,-0.80),(2004.27,-0.61),(2004.39,-0.73),(2004.51,-0.65),(2004.68,-0.92),(2004.86,-0.84),(2005.02,-0.77),(2005.16,-0.84),(2005.34,-0.65),(2005.52,-0.73),(2005.69,-0.45),(2005.87,-0.65),(2006.05,-0.69),(2006.20,-0.65),(2006.35,-0.49),(2006.47,-0.29),(2006.58,-0.45),(2006.70,-0.65),(2006.82,-0.41),(2007.02,-0.37)],
    [(2007.26,0),(2007.41,0.30),(2007.53,0.38),(2007.71,0.42),(2007.89,0.46),(2008.07,0.42),(2008.25,0.65),(2008.36,0.54),(2008.48,0.69),(2008.60,0.62),(2008.72,0.50),(2008.84,0.62),(2009.02,0.46),(2009.20,0.54),(2009.37,0.50),(2009.49,0.38),(2009.61,-0.02),(2009.79,-0.09),(2009.91,-0.29),(2010.03,-0.06),(2010.18,-0.02),(2010.32,-0.09),(2010.44,-0.45),(2010.56,-0.37),(2010.70,-0.37),(2010.86,-0.49),(2011.01,-0.65),(2011.16,-0.77),(2011.27,-0.69),(2011.45,-0.92),(2011.57,-0.84),(2011.69,-0.69),(2011.84,-0.88),(2011.99,-1.24),(2012.13,-1.12),(2012.28,-1.28),(2012.40,-1.20),(2012.58,-1.32),(2012.76,-1.28),(2012.94,-1.20),(2013.06,-1.48),(2013.17,-1.71),(2013.35,-1.55),(2013.53,-1.63),(2013.65,-1.71),(2013.77,-2.07),(2013.91,-1.95),(2014.07,-1.71),(2014.22,-1.95),(2014.36,-1.99),(2014.54,-2.07),(2014.72,-1.91),(2014.86,-2.11),(2015.02,-2.15),(2015.13,-2.35),(2015.31,-2.11),(2015.43,-2.23),(2015.55,-2.31),(2015.67,-2.54),(2015.79,-2.23),(2015.93,-2.07),(2016.05,-2.03),(2016.14,-1.91),(2016.26,-2.11),(2016.38,-2.31),(2016.56,-2.15),(2016.74,-2.19),(2016.92,-2.07),(2017.07,-1.99),(2017.19,-1.75),(2017.33,-1.83),(2017.51,-1.79),(2017.63,-1.87),(2017.75,-2.19),(2017.87,-2.11),(2018.04,-1.99),(2018.22,-2.07),(2018.38,-1.99),(2018.49,-1.55),(2018.64,-1.79),(2018.76,-1.59),(2018.93,-1.48),(2019.11,-1.59),(2019.29,-1.79),(2019.47,-1.63),(2019.59,-1.48),(2019.77,-1.24),(2019.88,-1.32)],
]
WOMEN_ENTRY = [
    [(1979.33,0),(1979.39,0.30),(1979.45,0.58),(1979.53,0.77),(1979.63,1.01),(1979.75,1.17),(1979.84,1.33),(1979.93,1.52),(1980.01,1.25),(1980.13,0.93),(1980.22,1.01),(1980.34,1.13),(1980.48,1.25),(1980.60,1.40),(1980.70,1.40),(1980.82,1.64),(1980.96,1.72),(1981.11,2.15),(1981.27,2.43)],
    [(1981.51,0),(1981.59,-0.09),(1981.67,-0.37),(1981.77,0.06),(1981.85,0.54),(1981.95,0.18),(1982.03,0.46),(1982.15,0.73),(1982.27,0.93),(1982.36,1.21),(1982.48,1.25),(1982.57,1.44),(1982.72,1.48),(1982.84,1.72),(1982.95,1.92),(1983.07,1.64),(1983.25,1.60),(1983.33,1.88),(1983.43,2.19),(1983.52,2.00),(1983.61,2.39),(1983.73,1.96),(1983.85,2.04),(1983.96,1.92),(1984.08,2.07),(1984.26,2.15),(1984.36,2.39),(1984.44,2.07),(1984.56,2.00),(1984.68,1.72),(1984.80,1.96),(1984.97,2.27),(1985.15,2.63),(1985.27,2.27),(1985.45,1.96),(1985.59,2.00),(1985.69,2.43),(1985.81,2.51),(1985.92,2.63),(1986.04,2.55),(1986.16,2.82),(1986.28,2.82),(1986.40,3.26),(1986.52,3.18),(1986.64,3.26),(1986.78,3.30),(1986.93,2.94),(1987.05,3.10),(1987.17,3.34),(1987.29,3.53),(1987.41,3.22),(1987.53,3.57),(1987.65,3.22),(1987.76,3.53),(1987.88,3.57),(1988.04,3.61),(1988.18,3.46),(1988.32,3.10),(1988.48,3.46),(1988.60,3.57),(1988.71,3.93),(1988.83,4.05),(1988.95,4.44),(1989.07,4.0),(1989.19,4.05),(1989.31,4.09),(1989.43,4.17),(1989.55,4.28),(1989.66,3.93),(1989.78,4.52),(1989.90,4.32),(1990.02,4.40),(1990.20,4.36)],
    [(1990.41,0),(1990.55,0.18),(1990.71,0.22),(1990.85,0.02),(1991.03,0.06),(1991.15,0.18),(1991.26,0.46),(1991.38,0.26),(1991.50,0.14),(1991.62,0.42),(1991.74,0.54),(1991.89,0.58),(1992.04,0.85),(1992.16,0.93),(1992.27,1.09),(1992.39,1.17),(1992.54,1.40),(1992.63,1.33),(1992.75,1.01),(1992.89,1.33),(1993.01,1.21),(1993.16,1.09),(1993.28,1.25),(1993.40,1.52),(1993.52,1.36),(1993.64,1.48),(1993.76,1.56),(1993.88,1.84),(1994.00,2.19),(1994.11,2.00),(1994.23,2.19),(1994.35,2.00),(1994.47,1.84),(1994.59,2.04),(1994.71,1.96),(1994.83,2.00),(1994.91,1.72),(1995.07,1.72),(1995.18,1.76),(1995.27,2.07),(1995.36,1.56),(1995.48,1.92),(1995.60,1.72),(1995.72,1.92),(1995.90,1.64),(1996.07,1.68),(1996.25,1.76),(1996.43,1.80),(1996.55,2.04),(1996.67,2.19),(1996.85,2.39),(1996.97,2.19),(1997.08,2.11),(1997.20,2.31),(1997.38,2.27),(1997.56,2.51),(1997.71,2.23),(1997.86,2.43),(1997.97,2.27),(1998.15,2.19),(1998.33,2.15),(1998.51,2.00),(1998.63,2.27),(1998.81,2.15),(1998.98,2.19),(1999.16,2.07),(1999.34,2.19),(1999.52,2.11),(1999.73,2.11),(1999.87,2.19),(1999.99,2.04),(2000.11,1.92),(2000.23,2.23),(2000.35,1.88),(2000.47,1.76),(2000.59,1.52),(2000.68,1.64)],
    [(2000.92,0),(2001.03,0.14),(2001.15,0.30),(2001.24,-0.17),(2001.36,-0.21),(2001.48,-0.17),(2001.57,-0.41),(2001.69,-0.09),(2001.83,0.06),(2001.95,-0.02),(2002.07,0.34),(2002.19,0.22),(2002.33,0.34),(2002.49,0.30),(2002.61,0.46),(2002.72,0.54),(2002.84,0.42),(2003.00,0.69),(2003.14,0.62),(2003.26,0.81),(2003.40,1.05),(2003.50,0.62),(2003.62,0.58),(2003.73,0.26),(2003.85,0.42),(2004.03,0.30),(2004.15,0.54),(2004.33,0.46),(2004.45,0.42),(2004.57,0.14),(2004.74,0.10),(2004.92,0.14),(2005.10,0.02),(2005.28,0.26),(2005.46,0.18),(2005.58,0.26),(2005.69,0.38),(2005.87,0.14),(2006.05,-0.02),(2006.20,0.06),(2006.35,-0.02),(2006.47,0.26),(2006.58,0.06),(2006.70,-0.06),(2006.88,0.06),(2007.02,0)],
    [(2007.26,0),(2007.41,0.30),(2007.53,0.42),(2007.65,0.30),(2007.74,0.50),(2007.85,0.42),(2007.97,0.54),(2008.07,0.50),(2008.19,0.62),(2008.31,0.65),(2008.42,0.77),(2008.54,0.85),(2008.66,0.93),(2008.78,0.93),(2008.90,1.05),(2009.02,1.25),(2009.20,1.44),(2009.31,1.60),(2009.43,1.84),(2009.55,1.80),(2009.71,1.60),(2009.85,1.76),(2009.94,1.68),(2010.03,2.00),(2010.15,2.07),(2010.26,2.19),(2010.38,1.96),(2010.50,1.88),(2010.62,2.00),(2010.74,2.00),(2010.86,2.15),(2010.98,1.84),(2011.10,1.76),(2011.21,1.88),(2011.39,1.72),(2011.51,1.68),(2011.65,1.92),(2011.81,1.68),(2011.99,1.36),(2012.11,1.44),(2012.22,1.25),(2012.40,1.29),(2012.58,1.13),(2012.76,1.09),(2012.94,1.13),(2013.11,0.65),(2013.29,0.65),(2013.47,0.58),(2013.59,0.30),(2013.71,-0.13),(2013.83,-0.02),(2014.01,0.06),(2014.15,-0.09),(2014.30,-0.25),(2014.48,-0.45),(2014.66,-0.53),(2014.78,-0.41),(2014.93,-0.80),(2015.07,-1.03),(2015.19,-1.12),(2015.34,-0.92),(2015.45,-1.12),(2015.57,-1.30),(2015.67,-1.55),(2015.81,-1.30),(2015.97,-1.26),(2016.14,-1.20),(2016.26,-1.40),(2016.38,-1.67),(2016.52,-1.55),(2016.64,-1.59),(2016.80,-1.71),(2016.97,-1.63),(2017.15,-1.40),(2017.27,-1.51),(2017.39,-1.59),(2017.51,-1.55),(2017.63,-1.63),(2017.71,-1.99),(2017.83,-2.11),(2017.98,-2.19),(2018.10,-1.95),(2018.22,-2.07),(2018.38,-2.03),(2018.49,-1.59),(2018.61,-2.15),(2018.76,-1.91),(2018.90,-1.83),(2019.05,-1.95),(2019.23,-2.11),(2019.35,-2.15),(2019.47,-1.99),(2019.61,-1.87),(2019.77,-1.67),(2019.88,-1.75)],
]
WOMEN_CYCLE = [
    [(1979.33,0),(1979.63,0.02),(1979.99,0.06),(1980.22,-0.02),(1980.40,-0.17),(1980.64,-0.29),(1980.88,-0.33),(1981.11,-0.37),(1981.29,-0.41)],
    [(1981.51,0),(1981.77,-0.06),(1982.00,-0.25),(1982.24,-0.49),(1982.48,-0.65),(1982.72,-0.80),(1982.95,-1.0),(1983.19,-1.10),(1983.37,-1.12),(1983.61,-1.04),(1983.85,-0.88),(1984.08,-0.73),(1984.32,-0.49),(1984.56,-0.29),(1984.80,-0.17),(1985.03,-0.02),(1985.33,0.06),(1985.69,0.10),(1986.04,0.16),(1986.40,0.18),(1986.76,0.22),(1987.05,0.26),(1987.29,0.34),(1987.53,0.46),(1987.71,0.60),(1988.06,0.69),(1988.42,0.81),(1988.77,0.93),(1989.07,1.01),(1989.43,1.05),(1989.78,1.07),(1990.20,1.09)],
    [(1990.41,0),(1990.73,-0.06),(1991.09,-0.21),(1991.44,-0.37),(1991.80,-0.49),(1992.16,-0.61),(1992.51,-0.77),(1992.87,-0.84),(1993.22,-0.88),(1993.58,-0.88),(1993.88,-0.84),(1994.11,-0.73),(1994.41,-0.65),(1994.77,-0.49),(1995.07,-0.33),(1995.42,-0.24),(1995.72,-0.19),(1996.07,-0.17),(1996.43,-0.09),(1996.79,-0.06),(1997.14,0.02),(1997.50,0.14),(1997.86,0.21),(1998.27,0.22),(1998.63,0.30),(1998.98,0.39),(1999.28,0.50),(1999.64,0.55),(1999.99,0.65),(2000.35,0.73),(2000.68,0.73)],
    [(2000.92,0),(2001.24,0.02),(2001.60,-0.09),(2001.95,-0.33),(2002.31,-0.57),(2002.67,-0.75),(2003.02,-0.88),(2003.38,-1.0),(2003.73,-1.10),(2004.03,-1.12),(2004.33,-1.08),(2004.68,-1.0),(2005.04,-0.90),(2005.40,-0.84),(2005.75,-0.77),(2006.11,-0.69),(2006.47,-0.57),(2006.76,-0.49),(2007.02,-0.41)],
    [(2007.26,0),(2007.59,-0.02),(2007.95,-0.06),(2008.31,-0.13),(2008.60,-0.29),(2008.84,-0.49),(2009.02,-0.77),(2009.20,-1.04),(2009.37,-1.32),(2009.55,-1.59),(2009.73,-1.83),(2009.97,-2.07),(2010.21,-2.23),(2010.44,-2.32),(2010.68,-2.42),(2010.98,-2.54),(2011.33,-2.60),(2011.69,-2.62),(2011.99,-2.58),(2012.34,-2.48),(2012.70,-2.42),(2013.00,-2.34),(2013.29,-2.22),(2013.59,-2.07),(2013.89,-1.91),(2014.18,-1.67),(2014.48,-1.51),(2014.78,-1.40),(2015.07,-1.20),(2015.37,-1.04),(2015.67,-0.92),(2016.02,-0.73),(2016.38,-0.65),(2016.74,-0.49),(2017.09,-0.37),(2017.45,-0.24),(2017.81,-0.11),(2018.16,0.02),(2018.52,0.18),(2018.87,0.28),(2019.23,0.36),(2019.53,0.39),(2019.88,0.44)],
]

PANELS = [
    [TOTAL_CHANGE, TOTAL_ENTRY, TOTAL_CYCLE],
    [MEN_CHANGE, MEN_ENTRY, MEN_CYCLE],
    [WOMEN_CHANGE, WOMEN_ENTRY, WOMEN_CYCLE],
]

# ---------------- style ----------------
FONT = "DejaVu Serif"
COLORS = ["#000000", "#00008B", "#8B0000"]
W, H = 1274, 1529
ML, MR, MT, MB = 89, 8, 3, 104
X_RANGE = [1978.0, 2019.92]
Y_RANGES = [[-3.87, 3.17], [-5.02, 2.29], [-3.03, 6.02]]
DOMAINS = [[0.7255, 1.0], [0.3634, 0.6371], [0.0, 0.2696]]


def flatten(episodes):
    xs, ys = [], []
    for ep in episodes:
        for x, y in ep:
            xs.append(x)
            ys.append(y)
        xs.append(None)
        ys.append(None)
    return xs, ys


fig = go.Figure()
shapes = []
annotations = []
layout_axes = {}

for p in range(3):
    sfx = "" if p == 0 else str(p + 1)
    xa, ya = "x" + sfx, "y" + sfx
    for s in range(3):
        xs, ys = flatten(PANELS[p][s])
        fig.add_trace(go.Scatter(
            x=xs, y=ys, mode="lines", name=SERIES_NAMES[s],
            legendgroup=SERIES_NAMES[s], showlegend=(p == 0),
            line=dict(color=COLORS[s], width=2.2),
            connectgaps=False, xaxis=xa, yaxis=ya, hoverinfo="skip"))
    fig.add_trace(go.Scatter(
        x=EPISODE_STARTS, y=[0] * len(EPISODE_STARTS), mode="markers",
        marker=dict(color="black", size=15), showlegend=False,
        cliponaxis=False, xaxis=xa, yaxis=ya, hoverinfo="skip"))

    for (a, b) in RECESSIONS:
        shapes.append(dict(type="rect", xref=xa, yref=ya + " domain",
                           x0=a, x1=b, y0=0, y1=1, fillcolor="#e8e8e8",
                           line=dict(width=0), layer="below"))
    for e in EPISODE_STARTS:
        shapes.append(dict(type="line", xref=xa, yref=ya + " domain",
                           x0=e, x1=e, y0=0, y1=1,
                           line=dict(color="black", width=1.2, dash="5px,3px"),
                           layer="below"))

    layout_axes["xaxis" + sfx] = dict(
        domain=[0, 1], anchor=ya, range=X_RANGE, showgrid=False, zeroline=False,
        showline=True, linecolor="black", linewidth=1.2, automargin=False,
        ticks="outside", tickvals=X_TICKS, ticklen=6, tickwidth=1.2, tickcolor="black",
        minor=dict(tickvals=MINOR_TICKS, ticks="outside", ticklen=3.5, tickwidth=1,
                   tickcolor="black", showgrid=False),
        tickfont=dict(family=FONT, size=19, color="black"), ticklabelstandoff=8)
    layout_axes["yaxis" + sfx] = dict(
        domain=DOMAINS[p], anchor=xa, range=Y_RANGES[p], tickvals=Y_TICKS[p],
        showgrid=True, gridcolor="#555555", gridwidth=1, griddash="1px,2px",
        zeroline=True, zerolinecolor="black", zerolinewidth=2, automargin=False,
        showline=False, ticks="", tickfont=dict(family=FONT, size=19, color="black"),
        ticklabelstandoff=14)

    ymid = (DOMAINS[p][0] + DOMAINS[p][1]) / 2
    annotations.append(dict(text="Percentage points", xref="paper", yref="paper",
                            x=-0.0569, y=ymid, textangle=-90, showarrow=False,
                            xanchor="center", yanchor="middle",
                            font=dict(family=FONT, size=21, color="black")))

TITLE_Y = [0.6639, 0.3017, -0.0612]
for p in range(3):
    annotations.append(dict(text=PANEL_TITLES[p], xref="paper", yref="paper",
                            x=0.4664, y=TITLE_Y[p], showarrow=False,
                            xanchor="center", yanchor="middle",
                            font=dict(family=FONT, size=23, color="#222222")))

fig.update_layout(
    width=W, height=H, margin=dict(l=ML, r=MR, t=MT, b=MB, autoexpand=False),
    paper_bgcolor="white", plot_bgcolor="white",
    font=dict(family=FONT, color="black"),
    shapes=shapes, annotations=annotations,
    legend=dict(x=0.0068, y=0.7799, xanchor="left", yanchor="top",
                bgcolor="rgba(255,255,255,0.85)", bordercolor="#cccccc", borderwidth=1,
                font=dict(family=FONT, size=15, color="black"),
                itemwidth=30, tracegroupgap=0),
    **layout_axes)

fig.write_html("out.html", config={"displayModeBar": False})
with open("out.html", "r", encoding="utf-8") as f:
    html = f.read()
html = html.replace("<body>", '<body style="margin:0;padding:0;">', 1)
with open("out.html", "w", encoding="utf-8") as f:
    f.write(html)
